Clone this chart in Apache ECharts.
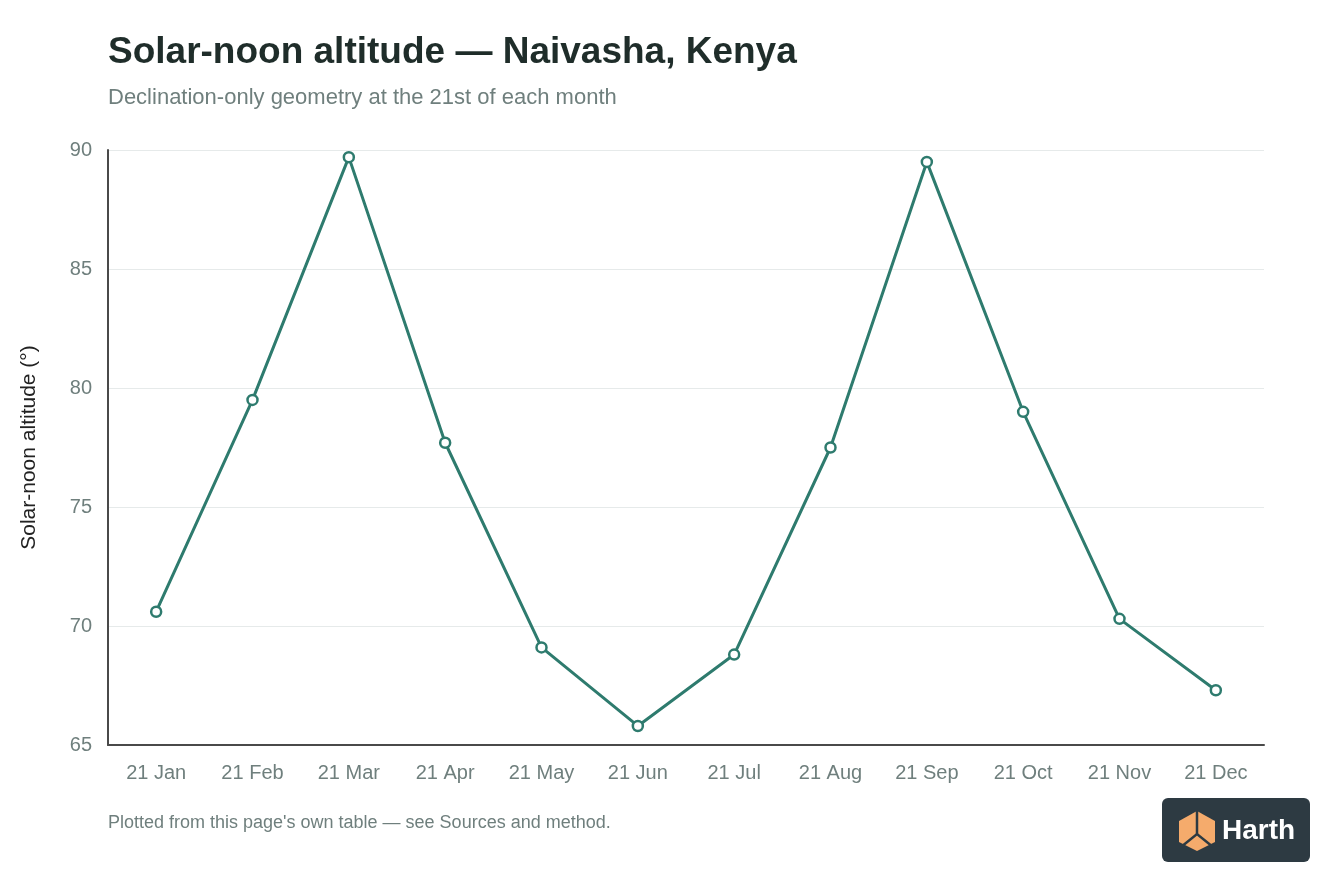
<!DOCTYPE html>
<html>
<head>
<meta charset="utf-8">
<script src="https://cdn.jsdelivr.net/npm/echarts@6/dist/echarts.min.js"></script>
<style>
  html, body { margin: 0; padding: 0; background: #ffffff; }
  #chart { width: 1344px; height: 896px; }
</style>
</head>
<body>
<div id="chart"></div>
<script>
const categories = ['21 Jan', '21 Feb', '21 Mar', '21 Apr', '21 May', '21 Jun', '21 Jul', '21 Aug', '21 Sep', '21 Oct', '21 Nov', '21 Dec'];
const altitude = [70.6, 79.5, 89.7, 77.7, 69.1, 65.8, 68.8, 77.5, 89.5, 79.0, 70.3, 67.3];
const yTicks = [65, 70, 75, 80, 85, 90];

const FONT = '"Liberation Sans", Arial, Helvetica, sans-serif';
const chart = echarts.init(document.getElementById('chart'), null, { renderer: 'canvas' });

chart.setOption({
  backgroundColor: '#ffffff',
  animation: false,
  title: [
    {
      text: 'Solar-noon altitude — Naivasha, Kenya',
      left: 103, top: 29,
      textStyle: { fontFamily: FONT, fontSize: 37, fontWeight: 'bold', color: '#1f2d2a' }
    },
    {
      text: 'Declination-only geometry at the 21st of each month',
      left: 103, top: 82,
      textStyle: { fontFamily: FONT, fontSize: 22, fontWeight: 'normal', color: '#6f7f7d' }
    },
    {
      text: "Plotted from this page's own table — see Sources and method.",
      left: 103, top: 809,
      textStyle: { fontFamily: FONT, fontSize: 18, fontWeight: 'normal', color: '#6f7f7d' }
    }
  ],
  grid: { left: 108, right: 80, top: 150, bottom: 151, containLabel: false },
  xAxis: {
    type: 'category',
    data: categories,
    boundaryGap: true,
    axisLine: { show: true, lineStyle: { color: '#4a4a4a', width: 2 } },
    axisTick: { show: false },
    axisLabel: { fontFamily: FONT, fontSize: 20, color: '#6f7f7d', margin: 18 },
    splitLine: { show: false }
  },
  yAxis: {
    type: 'value',
    min: yTicks[0], max: yTicks[yTicks.length - 1], interval: 5,
    name: 'Solar-noon altitude (°)',
    nameLocation: 'middle',
    nameGap: 68,
    nameRotate: 90,
    nameTextStyle: { fontFamily: FONT, fontSize: 21, color: '#222222' },
    axisLine: { show: true, lineStyle: { color: '#4a4a4a', width: 2 } },
    axisTick: { show: false },
    axisLabel: { fontFamily: FONT, fontSize: 20, color: '#6f7f7d', margin: 16 },
    splitLine: { show: true, lineStyle: { color: '#e6eaea', width: 1 } }
  },
  series: [{
    type: 'line',
    data: altitude,
    symbol: 'circle',
    symbolSize: 10,
    lineStyle: { color: '#2e7b6e', width: 3 },
    itemStyle: { color: '#ffffff', borderColor: '#2e7b6e', borderWidth: 2.5 },
    z: 3
  }],
  graphic: [
    {
      type: 'rect',
      shape: { x: 1162, y: 798, width: 148, height: 64, r: 6 },
      style: { fill: '#2d3a42' }
    },
    {
      type: 'polygon',
      shape: { points: [[1197, 811], [1215, 821], [1215, 842], [1197, 851], [1179, 842], [1179, 821]] },
      style: { fill: '#f5ab6c' }
    },
    {
      type: 'polyline',
      shape: { points: [[1197, 811], [1197, 834]] },
      style: { stroke: '#2d3a42', lineWidth: 2.5 }
    },
    {
      type: 'polyline',
      shape: { points: [[1181, 847], [1197, 834], [1213, 847]] },
      style: { stroke: '#2d3a42', lineWidth: 2.5, fill: null }
    },
    {
      type: 'text',
      style: {
        x: 1222, y: 831, text: 'Harth',
        font: 'bold 28px ' + FONT,
        fill: '#ffffff',
        textVerticalAlign: 'middle', verticalAlign: 'middle'
      }
    }
  ]
});
</script>
</body>
</html>
